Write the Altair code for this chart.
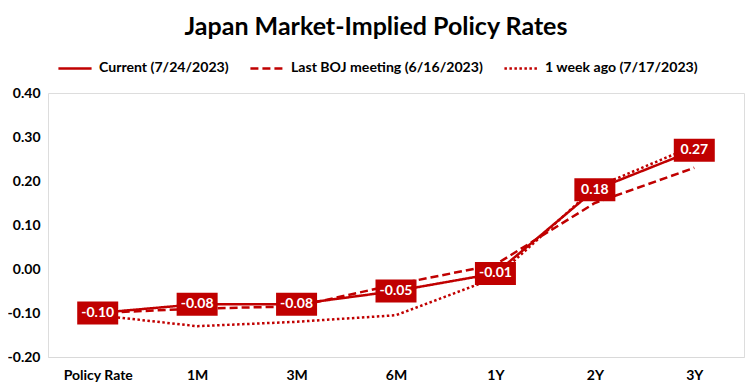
import altair as alt
import pandas as pd

categories = ["Policy Rate", "1M", "3M", "6M", "1Y", "2Y", "3Y"]
series_names = ["Current (7/24/2023)", "Last BOJ meeting (6/16/2023)", "1 week ago (7/17/2023)"]
current = [-0.10, -0.08, -0.08, -0.05, -0.01, 0.18, 0.27]
last_boj = [-0.10, -0.09, -0.085, -0.035, 0.01, 0.15, 0.23]
week_ago = [-0.105, -0.13, -0.12, -0.105, -0.02, 0.185, 0.28]
y_ticks = [-0.2, -0.1, 0.0, 0.1, 0.2, 0.3, 0.4]

RED = "#C00000"
FONT = "Lato"

rows = []
for name, vals in zip(series_names, [current, last_boj, week_ago]):
    for i, (c, v) in enumerate(zip(categories, vals)):
        rows.append({"cat": c, "value": v, "series": name, "order": i})
df = pd.DataFrame(rows)
cur_df = pd.DataFrame({"cat": categories, "value": current,
                       "label": [f"{v:.2f}" for v in current]})

x_enc = alt.X("cat:N", sort=categories,
              scale=alt.Scale(type="point", padding=0.5),
              axis=alt.Axis(title=None, labelAngle=0, ticks=False, domainColor="#D9D9D9",
                            domainWidth=1, labelFont=FONT, labelFontWeight="bold",
                            labelFontSize=14, labelColor="#000000", labelPadding=11))
y_scale = alt.Scale(domain=[-0.2, 0.4], nice=False, zero=False)

lines = alt.Chart(df).mark_line(color=RED, strokeWidth=2.5).encode(
    x=x_enc,
    y=alt.Y("value:Q", scale=y_scale,
            axis=alt.Axis(title=None, values=y_ticks, grid=False, domain=False,
                          labelExpr="replace(format(datum.value, '.2f'), '\u2212', '-')",
                          ticks=False, labelFont=FONT, labelFontWeight="bold", labelFontSize=14,
                          labelColor="#000000", labelPadding=8)),
    strokeDash=alt.StrokeDash("series:N",
                              scale=alt.Scale(domain=series_names, range=[[1, 0], [8, 4], [2.5, 2.5]]),
                              legend=alt.Legend(title=None, orient="none", direction="horizontal",
                                                legendX=9, legendY=-43,
                                                symbolType="stroke", symbolStrokeColor=RED,
                                                symbolStrokeWidth=2.5, symbolSize=1100,
                                                labelFont=FONT, labelFontWeight="bold",
                                                labelFontSize=14.1, labelColor="#000000",
                                                labelOffset=6, columnPadding=16, labelLimit=400)),
    order="order:Q",
)

box_path = "M-1,-0.56L1,-0.56L1,0.56L-1,0.56Z"
boxes = alt.Chart(cur_df).mark_point(shape=box_path, filled=True, color=RED, opacity=1, size=1681).encode(
    x=alt.X("cat:N", sort=categories), y=alt.Y("value:Q", scale=y_scale)
)
labels = alt.Chart(cur_df).mark_text(color="white", font=FONT, fontWeight="bold", fontSize=14).encode(
    x=alt.X("cat:N", sort=categories), y=alt.Y("value:Q", scale=y_scale),
    text=alt.Text("label:N")
)

chart = alt.layer(lines, boxes, labels).properties(
    width=696, height=264,
    title=alt.TitleParams("Japan Market-Implied Policy Rates", font=FONT, fontSize=25,
                          fontWeight="bold", color="#000000", anchor="middle", dx=-20, offset=10),
    autosize=alt.AutoSizeParams(type="none"),
    padding={"left": 40, "top": 85, "right": 1, "bottom": 30},
).configure_view(stroke=None).configure(background="white")

chart.save("out.html", embed_options={"renderer": "svg", "actions": False})
